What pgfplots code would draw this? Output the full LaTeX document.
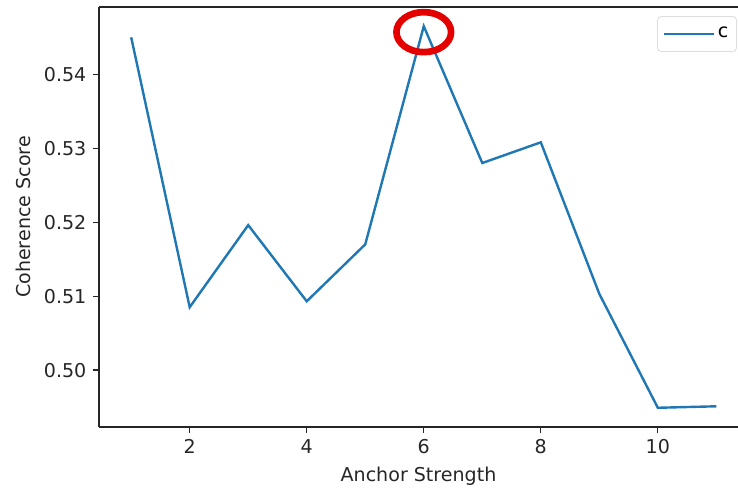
\documentclass[border=0pt]{standalone}
\usepackage{fontspec}
\setmainfont{DejaVu Sans}
\usepackage{pgfplots}
\pgfplotsset{compat=1.18}
\definecolor{mplblue}{HTML}{1F77B4}
\definecolor{txt}{HTML}{262626}
\begin{document}
\fontsize{14.3}{17}\selectfont
\begin{tikzpicture}
\begin{axis}[
  name=ax,
  scale only axis,
  width=479.25pt, height=315pt,
  xmin=0.45, xmax=11.37,
  ymin=0.4923, ymax=0.5491,
  axis x line=box, axis y line=left,
  axis line style={-, line width=0.9pt, color=txt},
  xtick={2,4,6,8,10},
  ytick={0.50,0.51,0.52,0.53,0.54},
  yticklabel style={/pgf/number format/.cd, fixed, fixed zerofill, precision=2},
  /pgf/number format/assume math mode=true,
  tick align=outside,
  xtick pos=bottom, ytick pos=left,
  major tick length=4.5pt,
  tick style={line width=0.9pt, color=txt},
  ticklabel style={font=\fontsize{14.3}{17}\selectfont, color=txt},
  label style={font=\fontsize{14.3}{17}\selectfont, color=txt},
  xlabel={Anchor Strength},
  ylabel={Coherence Score},
  clip=false,
  legend style={at={(rel axis cs:1,1)}, anchor=north east, xshift=-1pt, yshift=-7pt,
    draw=black!20, rounded corners=2.5pt, fill=white, font=\fontsize{14.3}{17}\selectfont,
    inner xsep=4pt, inner ysep=6pt},
  legend image code/.code={\draw[#1, line width=2.2pt] (0pt,0pt) -- (37pt,0pt);},
  legend cell align=left,
]
\addplot[color=mplblue, line width=1.8pt] coordinates {
(1,0.5450) (2,0.5085) (3,0.5196) (4,0.5093) (5,0.5170) (6,0.5465)
(7,0.5280) (8,0.5308) (9,0.5103) (10,0.4949) (11,0.4951)
};
\addlegendentry{c\hspace{7pt}}
\draw[color=red!90!black, line width=5pt] (axis cs:6,0.5457) ellipse [x radius=20.5pt, y radius=15pt];
\end{axis}
\pgfresetboundingbox
\path[use as bounding box] ([xshift=-74.25pt,yshift=-46.5pt]ax.south west) rectangle ([yshift=5.25pt]ax.north east);
\end{tikzpicture}
\end{document}
